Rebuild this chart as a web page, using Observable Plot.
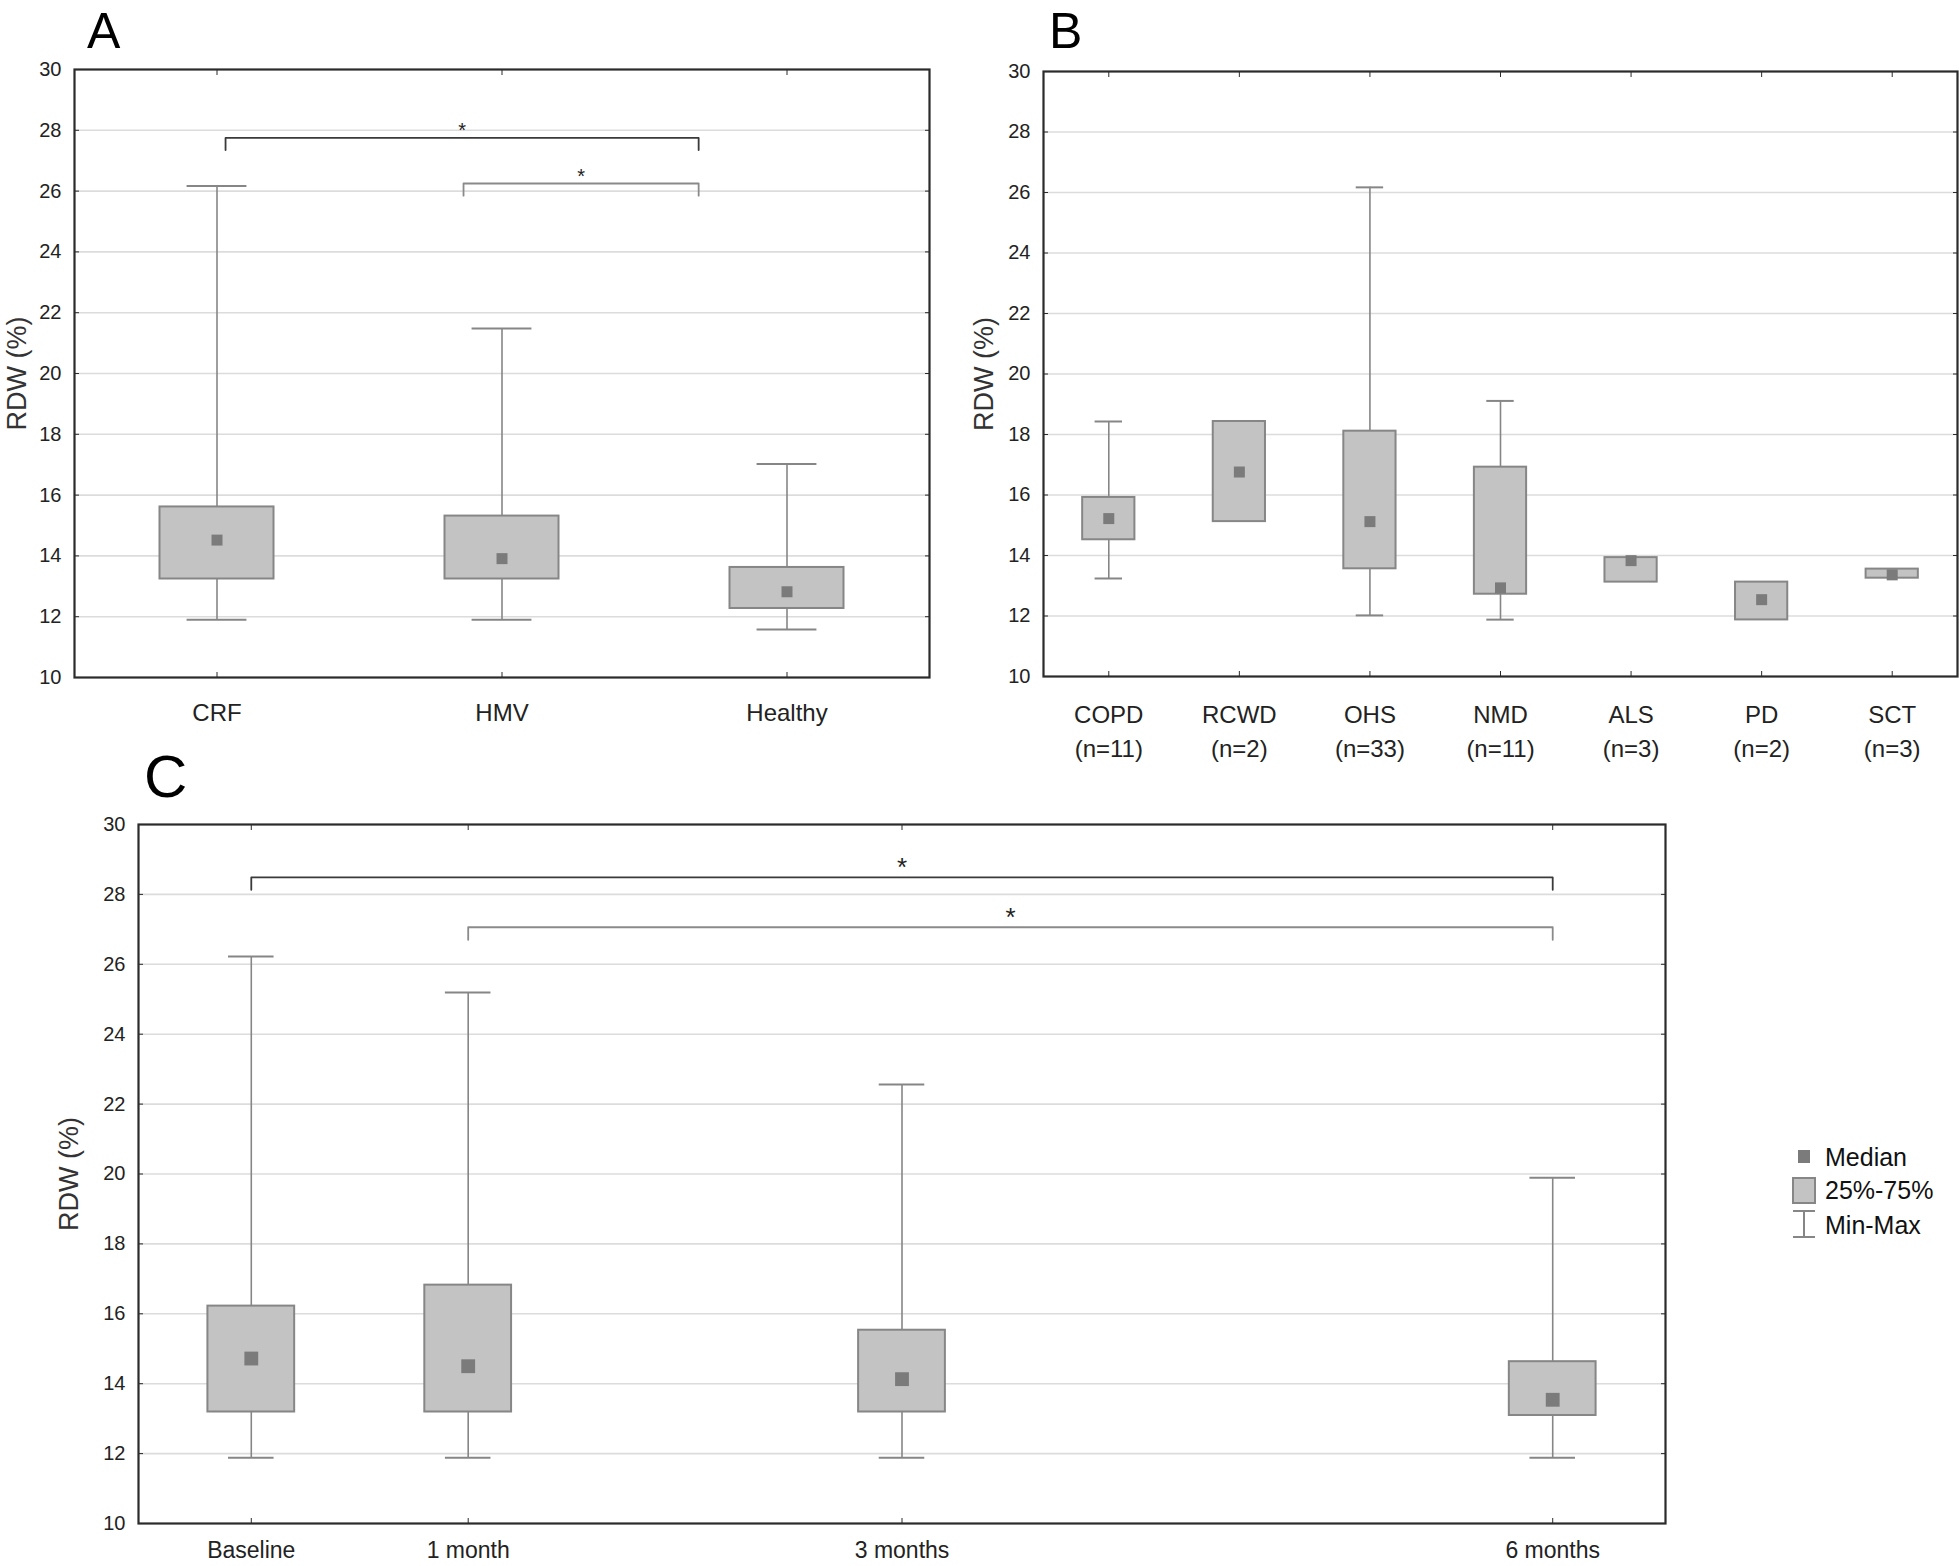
<!DOCTYPE html>
<html>
<head>
<meta charset="utf-8">
<script src="https://cdn.jsdelivr.net/npm/d3@7"></script>
<script src="https://cdn.jsdelivr.net/npm/@observablehq/plot@0.6"></script>
<style>
  html, body { margin: 0; padding: 0; background: #ffffff; }
  #page { position: relative; width: 1959px; height: 1566px; overflow: hidden; background: #fff;
          font-family: "Liberation Sans", Arial, sans-serif; }
  .panel { position: absolute; }
  .panel svg { overflow: visible; }
  #overlay { position: absolute; left: 0; top: 0; pointer-events: none; }
</style>
</head>
<body>
<div id="page"></div>
<script>
// ---------------- data ----------------
const yTicks = [10, 12, 14, 16, 18, 20, 22, 24, 26, 28, 30];
const yLabel = "RDW (%)";

// Panel A
const catsA = ["CRF", "HMV", "Healthy"];
const minA = [11.9, 11.9, 11.58];
const q1A  = [13.24, 13.24, 12.27];
const medA = [14.52, 13.91, 12.82];
const q3A  = [15.61, 15.31, 13.62];
const maxA = [26.17, 21.48, 17.02];
const sigFromA = [0.03, 0.865];
const sigToA   = [1.69, 1.69];
const sigYA    = [27.75, 26.25];

// Panel B
const catsB = ["COPD", "RCWD", "OHS", "NMD", "ALS", "PD", "SCT"];
const nB    = [11, 2, 33, 11, 3, 2, 3];
const minB = [13.24, 15.12, 12.02, 11.88, 13.12, 11.87, 13.25];
const q1B  = [14.52, 15.12, 13.56, 12.72, 13.12, 11.87, 13.25];
const medB = [15.22, 16.76, 15.12, 12.93, 13.83, 12.54, 13.36];
const q3B  = [15.92, 18.43, 18.11, 16.92, 13.93, 13.12, 13.55];
const maxB = [18.43, 18.43, 26.17, 19.11, 13.93, 13.12, 13.55];

// Panel C
const catsC   = ["Baseline", "1 month", "3 months", "6 months"];
const monthsC = [0, 1, 3, 6];
const minC = [11.88, 11.88, 11.88, 11.88];
const q1C  = [13.19, 13.19, 13.19, 13.09];
const medC = [14.72, 14.50, 14.13, 13.54];
const q3C  = [16.22, 16.82, 15.53, 14.63];
const maxC = [26.22, 25.19, 22.56, 19.89];
const sigFromC = [0, 1];
const sigToC   = [6, 6];
const sigYC    = [28.49, 27.06];

// legend
const legendItems = ["Median", "25%-75%", "Min-Max"];

// ---------------- styles ----------------
const FONT = "'Liberation Sans', Arial, sans-serif";
const BOX = "#c3c3c3", WHISK = "#868686", MED = "#7b7b7b";
const GRID = "#dcdcdc", FRAME = "#2b2b2b";
const SIG_COLORS = ["#3a3a3a", "#8a8a8a"];

function boxPanel(cfg) {
  const {xs, labels, mins, q1s, meds, q3s, maxs, xDomain, width, height,
         mt, mr, mb, ml, medR, tickPadX, xFont, lineHeight, yLabelDx, sig} = cfg;
  const rows = xs.map((x, i) => ({x, min: mins[i], q1: q1s[i], med: meds[i], q3: q3s[i], max: maxs[i]}));
  const boxHalf = 0.2, capHalf = 0.105;
  const marks = [
    Plot.gridY(yTicks.slice(1, -1), {stroke: GRID, strokeOpacity: 1, strokeWidth: 1.6}),
    Plot.ruleX(rows, {x: "x", y1: "q3", y2: "max", stroke: WHISK, strokeWidth: 1.6}),
    Plot.ruleX(rows, {x: "x", y1: "min", y2: "q1", stroke: WHISK, strokeWidth: 1.6}),
    Plot.ruleY(rows.filter(d => d.max > d.q3), {y: "max", x1: d => d.x - capHalf, x2: d => d.x + capHalf, stroke: WHISK, strokeWidth: 2}),
    Plot.ruleY(rows.filter(d => d.min < d.q1), {y: "min", x1: d => d.x - capHalf, x2: d => d.x + capHalf, stroke: WHISK, strokeWidth: 2}),
    Plot.rect(rows, {x1: d => d.x - boxHalf, x2: d => d.x + boxHalf, y1: "q1", y2: "q3", fill: BOX, stroke: WHISK, strokeWidth: 2}),
    Plot.dot(rows, {x: "x", y: "med", symbol: "square", r: medR, fill: MED, stroke: null})
  ];
  if (sig) {
    sig.from.forEach((f, i) => {
      const y = sig.y[i], t = sig.to[i], d = sig.drop;
      const pts = [{x: f, y: y - d}, {x: f, y}, {x: t, y}, {x: t, y: y - d}];
      marks.push(Plot.line(pts, {x: "x", y: "y", stroke: SIG_COLORS[i], strokeWidth: 1.8, curve: "linear"}));
      marks.push(Plot.text([{x: (f + t) / 2, y}], {x: "x", y: "y", text: () => "*", fontSize: sig.starSize,
        lineAnchor: "bottom", dy: sig.starDy, fill: "#222"}));
    });
  }
  marks.push(
    Plot.axisY(yTicks, {anchor: "left", tickSize: -5, tickPadding: 18, fontSize: 20, label: null, stroke: FRAME, fill: "#222"}),
    Plot.axisY(yTicks, {anchor: "right", tickSize: -5, tickFormat: () => "", label: null, stroke: FRAME}),
    Plot.axisX(xs, {anchor: "bottom", tickSize: -5, tickPadding: tickPadX, fontSize: xFont, label: null,
      lineHeight, tickFormat: d => labels[xs.indexOf(d)], stroke: FRAME, fill: "#222"}),
    Plot.axisX(xs, {anchor: "top", tickSize: -5, tickFormat: () => "", label: null, stroke: FRAME}),
    Plot.text([yLabel], {frameAnchor: "left", rotate: -90, dx: yLabelDx, fontSize: 27,
      textAnchor: "middle", lineAnchor: "middle", fill: "#333"}),
    Plot.frame({stroke: FRAME, strokeWidth: 2.2})
  );
  return Plot.plot({
    width, height, marginTop: mt, marginRight: mr, marginBottom: mb, marginLeft: ml,
    style: {fontFamily: FONT, color: "#222", background: "transparent", overflow: "visible"},
    x: {domain: xDomain},
    y: {domain: [10, 30]},
    marks
  });
}

const page = document.getElementById("page");
function place(node, left, top) {
  const div = document.createElement("div");
  div.className = "panel";
  div.style.left = left + "px";
  div.style.top = top + "px";
  div.appendChild(node);
  page.appendChild(div);
}

// Panel A
place(boxPanel({
  xs: d3.range(catsA.length), labels: catsA, mins: minA, q1s: q1A, meds: medA, q3s: q3A, maxs: maxA,
  xDomain: [-0.5, catsA.length - 0.5], width: 960, height: 760, mt: 69, mr: 31, mb: 83, ml: 74,
  medR: 6.2, tickPadX: 31, xFont: 24, lineHeight: 1, yLabelDx: -57,
  sig: {from: sigFromA, to: sigToA, y: sigYA, drop: 0.4, starSize: 20, starDy: -1}
}), 0, 0);

// Panel B
place(boxPanel({
  xs: d3.range(catsB.length), labels: catsB.map((c, i) => `${c}\n(n=${nB[i]})`),
  mins: minB, q1s: q1B, meds: medB, q3s: q3B, maxs: maxB,
  xDomain: [-0.5, catsB.length - 0.5], width: 999, height: 760, mt: 71, mr: 2, mb: 84, ml: 83,
  medR: 6.2, tickPadX: 28, xFont: 24, lineHeight: 1.4, yLabelDx: -59
}), 960, 0);

// Panel C
place(boxPanel({
  xs: monthsC, labels: catsC, mins: minC, q1s: q1C, meds: medC, q3s: q3C, maxs: maxC,
  xDomain: [-0.52, 6.52], width: 1700, height: 826, mt: 84, mr: 35, mb: 43, ml: 138,
  medR: 7.8, tickPadX: 23, xFont: 23, lineHeight: 1, yLabelDx: -69,
  sig: {from: sigFromC, to: sigToC, y: sigYC, drop: 0.36, starSize: 26, starDy: -1}
}), 0, 740);

// overlay: panel letters + legend
const ns = "http://www.w3.org/2000/svg";
const ov = document.createElementNS(ns, "svg");
ov.setAttribute("id", "overlay");
ov.setAttribute("width", 1959);
ov.setAttribute("height", 1566);
function el(tag, attrs, text) {
  const e = document.createElementNS(ns, tag);
  for (const k in attrs) e.setAttribute(k, attrs[k]);
  if (text != null) e.textContent = text;
  ov.appendChild(e);
  return e;
}
const LETTER_FONT = "'Liberation Sans', Arial, sans-serif";
el("text", {x: 87, y: 48, "font-size": 50, "font-family": LETTER_FONT, fill: "#000"}, "A");
el("text", {x: 1049, y: 48, "font-size": 50, "font-family": LETTER_FONT, fill: "#000"}, "B");
el("text", {x: 144, y: 797, "font-size": 60, "font-family": LETTER_FONT, fill: "#000"}, "C");

// legend
el("rect", {x: 1798, y: 1150, width: 12, height: 13, fill: MED});
el("rect", {x: 1793, y: 1178, width: 22, height: 25, fill: BOX, stroke: WHISK, "stroke-width": 2});
el("line", {x1: 1804, x2: 1804, y1: 1211, y2: 1237, stroke: WHISK, "stroke-width": 2});
el("line", {x1: 1793, x2: 1815, y1: 1211, y2: 1211, stroke: WHISK, "stroke-width": 2});
el("line", {x1: 1793, x2: 1815, y1: 1237, y2: 1237, stroke: WHISK, "stroke-width": 2});
const legendY = [1157, 1190, 1225];
legendItems.forEach((t, i) => {
  el("text", {x: 1825, y: legendY[i], "font-size": 25, "font-family": FONT, fill: "#111",
    "dominant-baseline": "central"}, t);
});
page.appendChild(ov);
</script>
</body>
</html>
